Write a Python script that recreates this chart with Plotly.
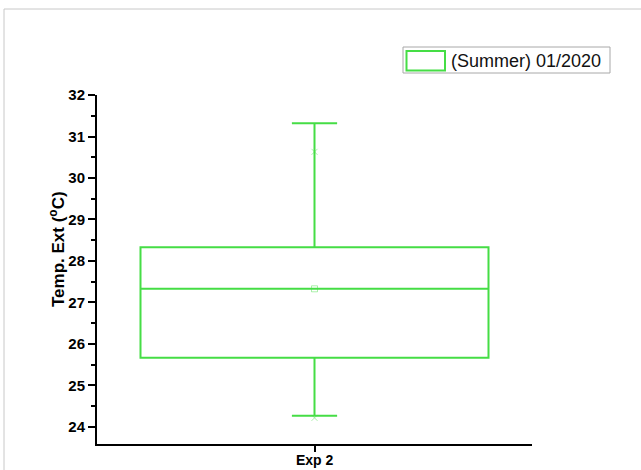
import plotly.graph_objects as go

# Box statistics for the exterior temperature, experiment 2 (summer, 01/2020)
categories = ["Exp 2"]
q1_vals = [25.67]
median_vals = [27.33]
q3_vals = [28.33]
lower_whisker = [24.27]
upper_whisker = [31.32]
mean_vals = [27.33]
p99_vals = [30.63]
p1_vals = [24.22]

series_name = "(Summer) 01/2020"
y_title = "Temp. Ext (<sup>o</sup>C)"
y_ticks = [24, 25, 26, 27, 28, 29, 30, 31, 32]

GREEN = "#45dd45"
FAINT = "rgba(69,221,69,0.45)"
FONT = "Liberation Sans, Arial, sans-serif"

W, H = 641, 470
L, R, T, B = 97, 109, 95, 26
pw, ph = W - L - R, H - T - B


def px(x):
    return (x - L) / pw


def py(y):
    return (H - B - y) / ph


fig = go.Figure()

fig.add_trace(go.Box(
    x=categories,
    q1=q1_vals, median=median_vals, q3=q3_vals,
    lowerfence=lower_whisker, upperfence=upper_whisker,
    width=0.8, whiskerwidth=0.13,
    line=dict(color=GREEN, width=2),
    fillcolor="rgba(255,255,255,0)",
    boxpoints=False,
    showlegend=False,
    hoverinfo="skip",
))

# mean marker
fig.add_trace(go.Scatter(
    x=categories, y=mean_vals, mode="markers",
    marker=dict(symbol="square-open", size=6, color=FAINT, line=dict(width=1)),
    showlegend=False, hoverinfo="skip",
))
# 1st / 99th percentile markers
fig.add_trace(go.Scatter(
    x=categories * 2, y=p99_vals + p1_vals, mode="markers",
    marker=dict(symbol="x-thin-open", size=6, color=FAINT, line=dict(width=1, color=FAINT)),
    showlegend=False, hoverinfo="skip",
))

shapes = [
    # outer frame
    dict(type="rect", xref="paper", yref="paper",
         x0=px(4), x1=px(660), y0=py(9), y1=py(490),
         line=dict(color="#c8c8c8", width=1), layer="below"),
    # legend frame
    dict(type="rect", xref="paper", yref="paper",
         x0=px(403), x1=px(610), y0=py(73), y1=py(47),
         line=dict(color="#a8a8a8", width=1)),
    # legend swatch
    dict(type="rect", xref="paper", yref="paper",
         x0=px(406.5), x1=px(445), y0=py(70.5), y1=py(51),
         line=dict(color=GREEN, width=2)),
]

annotations = [
    dict(text=series_name, xref="paper", yref="paper",
         x=px(449), y=py(60.5), xanchor="left", yanchor="middle",
         showarrow=False, font=dict(family=FONT, size=18, color="#111")),
    dict(text=y_title, xref="paper", yref="paper", textangle=-90,
         x=px(57), y=py(249), xanchor="center", yanchor="middle",
         showarrow=False,
         font=dict(family=FONT, size=17, color="black", weight="bold")),
    # category label under the x axis
    dict(text=categories[0], xref="x", yref="paper",
         x=categories[0], y=py(469), xanchor="center", yanchor="bottom",
         showarrow=False, borderpad=0,
         font=dict(family=FONT, size=14, color="black", weight="bold")),
]

fig.update_layout(
    width=W, height=H,
    margin=dict(l=L, r=R, t=T, b=B),
    paper_bgcolor="white", plot_bgcolor="white",
    shapes=shapes, annotations=annotations,
    showlegend=False,
    xaxis=dict(
        type="category", range=[-0.5, 0.5], automargin=False,
        showline=True, linecolor="black", linewidth=2,
        ticks="outside", ticklen=6, tickwidth=2, tickcolor="black",
        showticklabels=False,
        showgrid=False, zeroline=False,
    ),
    yaxis=dict(
        range=[23.59, 32], tickvals=y_ticks, automargin=False,
        showline=True, linecolor="black", linewidth=2,
        ticks="outside", ticklen=7, tickwidth=2, tickcolor="black",
        minor=dict(dtick=0.5, ticks="outside", ticklen=4, tickwidth=2, tickcolor="black", showgrid=False),
        showgrid=False, zeroline=False,
        tickfont=dict(family=FONT, size=15, color="black", weight="bold"),
    ),
)

fig.write_html("out.html")
